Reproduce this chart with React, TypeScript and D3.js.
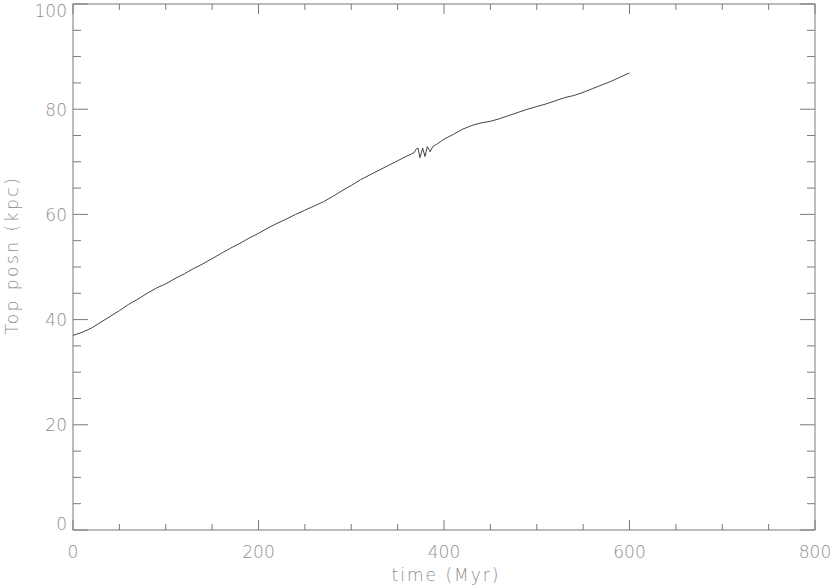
import React from "react";
import * as d3 from "d3";

const times: number[] = [
  0, 10, 20, 30, 40, 50, 60, 70, 80, 90, 100, 110, 120, 130, 140, 150, 160, 170, 180, 190,
  200, 210, 220, 230, 240, 250, 260, 270, 280, 290, 300, 310, 320, 330, 340, 350, 360, 365,
  368, 370, 372, 374, 377, 379.5, 382, 385, 388, 392, 396, 400, 410, 420, 430, 440, 450, 460,
  470, 480, 490, 500, 510, 520, 530, 540, 550, 560, 570, 580, 590, 600,
];
const topPosn: number[] = [
  37.0, 37.6, 38.4, 39.5, 40.6, 41.7, 42.9, 43.9, 45.0, 46.0, 46.8, 47.8, 48.7, 49.7, 50.6, 51.6,
  52.6, 53.6, 54.5, 55.5, 56.4, 57.4, 58.3, 59.1, 60.0, 60.8, 61.6, 62.4, 63.4, 64.5, 65.5, 66.6,
  67.5, 68.4, 69.3, 70.2, 71.1, 71.5, 71.8, 72.4, 72.6, 70.8, 72.6, 71.0, 72.9, 71.9, 72.9, 73.3,
  73.8, 74.3, 75.2, 76.2, 76.9, 77.4, 77.7, 78.2, 78.8, 79.4, 80.0, 80.5, 81.0, 81.6, 82.2, 82.6,
  83.2, 83.9, 84.6, 85.3, 86.1, 86.9,
];
const xTicks: number[] = [0, 200, 400, 600, 800];
const yTicks: number[] = [0, 20, 40, 60, 80, 100];
const xLabel = "time (Myr)";
const yLabel = "Top posn (kpc)";

export default function App() {
  const W = 830, H = 585;
  const left = 73, right = 815, top = 4, bottom = 530;
  const x = d3.scaleLinear().domain([0, 800]).range([left, right]);
  const y = d3.scaleLinear().domain([0, 100]).range([bottom, top]);
  const xMinor = d3.range(0, 801, 50).filter((v) => v % 200 !== 0);
  const yMinor = d3.range(0, 101, 5).filter((v) => v % 20 !== 0);
  const line = d3
    .line<number>()
    .x((_, i) => x(times[i]))
    .y((d) => y(d));
  const axisColor = "#7a7a7a";
  const textColor = "#8e8e8e";
  const font = "DejaVu Sans, sans-serif";
  const fs = 17;
  const fw = 200;
  const xMajLen = 10, xMinLen = 6, yMajLen = 15, yMinLen = 8;

  return (
    <svg
      width={W}
      height={H}
      style={{ position: "absolute", left: 0, top: 0, display: "block", background: "#fff" }}
    >
      <rect x={left} y={top} width={right - left} height={bottom - top} fill="none" stroke={axisColor} strokeWidth={1} />
      {xTicks.map((t) => (
        <g key={"xt" + t}>
          <line x1={x(t)} x2={x(t)} y1={bottom} y2={bottom - xMajLen} stroke={axisColor} />
          <line x1={x(t)} x2={x(t)} y1={top} y2={top + xMajLen} stroke={axisColor} />
        </g>
      ))}
      {xMinor.map((t) => (
        <g key={"xm" + t}>
          <line x1={x(t)} x2={x(t)} y1={bottom} y2={bottom - xMinLen} stroke={axisColor} />
          <line x1={x(t)} x2={x(t)} y1={top} y2={top + xMinLen} stroke={axisColor} />
        </g>
      ))}
      {yTicks.map((t) => (
        <g key={"yt" + t}>
          <line x1={left} x2={left + yMajLen} y1={y(t)} y2={y(t)} stroke={axisColor} />
          <line x1={right} x2={right - yMajLen} y1={y(t)} y2={y(t)} stroke={axisColor} />
        </g>
      ))}
      {yMinor.map((t) => (
        <g key={"ym" + t}>
          <line x1={left} x2={left + yMinLen} y1={y(t)} y2={y(t)} stroke={axisColor} />
          <line x1={right} x2={right - yMinLen} y1={y(t)} y2={y(t)} stroke={axisColor} />
        </g>
      ))}
      {xTicks.map((t) => (
        <text key={"xl" + t} x={x(t)} y={558} textAnchor="middle" fontFamily={font} fontWeight={fw} fontSize={fs} fill={textColor}>
          {t}
        </text>
      ))}
      {yTicks.map((t) => {
        let yy = y(t) + 6.5;
        if (t === 100) yy = 17;
        if (t === 0) yy = 530;
        return (
          <text key={"yl" + t} x={67} y={yy} textAnchor="end" fontFamily={font} fontWeight={fw} fontSize={fs} fill={textColor}>
            {t}
          </text>
        );
      })}
      <text
        x={(left + right) / 2 + 2}
        y={581}
        textAnchor="middle"
        fontFamily={font}
        fontWeight={fw}
        fontSize={fs}
        letterSpacing={2}
        fill={textColor}
      >
        {xLabel}
      </text>
      <text
        transform={`translate(18,${(top + bottom) / 2 - 12}) rotate(-90)`}
        textAnchor="middle"
        fontFamily={font}
        fontWeight={fw}
        fontSize={fs}
        letterSpacing={2.5}
        fill={textColor}
      >
        {yLabel}
      </text>
      <path d={line(topPosn) || ""} fill="none" stroke="#444" strokeWidth={1} />
    </svg>
  );
}
